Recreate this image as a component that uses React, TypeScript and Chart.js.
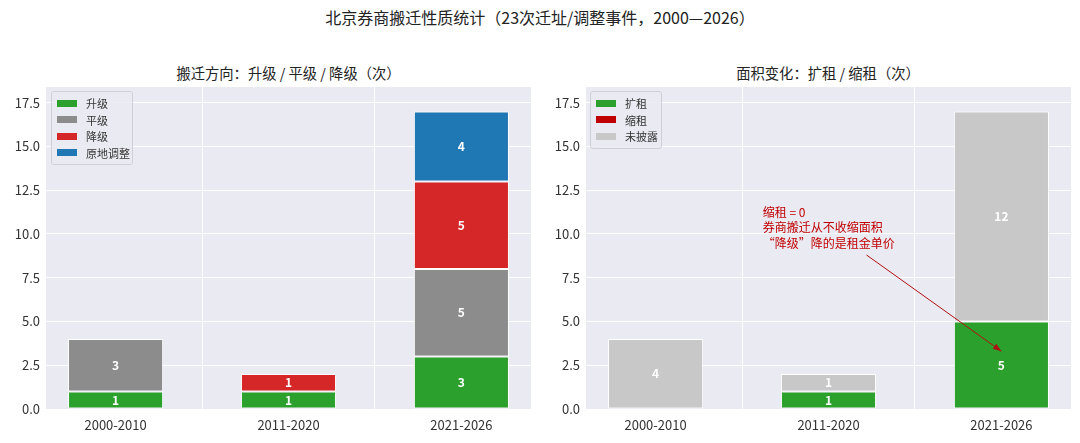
import { useEffect, useRef } from 'react';
import { Chart, registerables } from 'chart.js';

Chart.register(...registerables);

const periods = ['2000-2010', '2011-2020', '2021-2026'];

// left: direction of the move
const upgrade = [1, 1, 3];
const lateral = [3, 0, 5];
const downgrade = [0, 1, 5];
const inPlace = [0, 0, 4];

// right: change of floor area
const expand = [0, 1, 5];
const shrink = [0, 0, 0];
const undisclosed = [4, 1, 12];

const yTicks = [0, 2.5, 5, 7.5, 10, 12.5, 15, 17.5];

const noteLines = ['缩租 = 0', '券商搬迁从不收缩面积', '“降级”降的是租金单价'];
const noteText = { x: 0.62, y: 11.25 };
const noteTail = { x: 1.22, y: 8.8 };
const noteTip = { x: 2.0, y: 3.3 };

const FONT = '"Noto Sans CJK SC", "Noto Sans", sans-serif';
const BG = '#EAEAF2';

type Series = { label: string; values: number[]; color: string };

const leftSeries: Series[] = [
  { label: '升级', values: upgrade, color: '#2ca02c' },
  { label: '平级', values: lateral, color: '#8c8c8c' },
  { label: '降级', values: downgrade, color: '#d62728' },
  { label: '原地调整', values: inPlace, color: '#1f77b4' },
];

const rightSeries: Series[] = [
  { label: '扩租', values: expand, color: '#2ca02c' },
  { label: '缩租', values: shrink, color: '#c00000' },
  { label: '未披露', values: undisclosed, color: '#c8c8c8' },
];

const plotBg = {
  id: 'plotBg',
  beforeDraw(chart: any) {
    const { ctx, chartArea: a } = chart;
    ctx.save();
    ctx.fillStyle = BG;
    ctx.fillRect(a.left, a.top, a.right - a.left, a.bottom - a.top);
    ctx.restore();
  },
};

const barLabels = {
  id: 'barLabels',
  afterDatasetsDraw(chart: any) {
    const { ctx } = chart;
    ctx.save();
    ctx.fillStyle = '#ffffff';
    ctx.font = `bold 12px ${FONT}`;
    ctx.textAlign = 'center';
    ctx.textBaseline = 'middle';
    chart.data.datasets.forEach((ds: any, di: number) => {
      const meta = chart.getDatasetMeta(di);
      meta.data.forEach((el: any, i: number) => {
        const v = ds.data[i]?.y;
        if (!v) return;
        ctx.fillText(String(v), el.x, (el.y + el.base) / 2);
      });
    });
    ctx.restore();
  },
};

const note = {
  id: 'note',
  afterDatasetsDraw(chart: any) {
    if (!chart.options.plugins.note?.show) return;
    const { ctx, scales } = chart;
    const px = (p: { x: number; y: number }) => [scales.x.getPixelForValue(p.x), scales.y.getPixelForValue(p.y)];
    ctx.save();
    ctx.fillStyle = '#c00000';
    ctx.font = `12px ${FONT}`;
    ctx.textAlign = 'left';
    ctx.textBaseline = 'middle';
    const [tx, ty] = px(noteText);
    noteLines.forEach((line, i) => ctx.fillText(line, tx, ty + i * 15.5));
    const [x0, y0] = px(noteTail);
    const [x1, y1] = px(noteTip);
    ctx.strokeStyle = '#b01010';
    ctx.lineWidth = 1;
    ctx.beginPath();
    ctx.moveTo(x0, y0);
    ctx.lineTo(x1, y1);
    ctx.stroke();
    const ang = Math.atan2(y1 - y0, x1 - x0);
    ctx.fillStyle = '#b01010';
    ctx.beginPath();
    ctx.moveTo(x1, y1);
    ctx.lineTo(x1 - 9 * Math.cos(ang - 0.35), y1 - 9 * Math.sin(ang - 0.35));
    ctx.lineTo(x1 - 9 * Math.cos(ang + 0.35), y1 - 9 * Math.sin(ang + 0.35));
    ctx.closePath();
    ctx.fill();
    ctx.restore();
  },
};

const StackedPanel = ({ series, showNote }: { series: Series[]; showNote: boolean }) => {
  const canvasRef = useRef<HTMLCanvasElement | null>(null);

  useEffect(() => {
    if (!canvasRef.current) return;
    const chart = new Chart(canvasRef.current, {
      type: 'bar',
      data: {
        datasets: series.map(s => ({
          label: s.label,
          data: s.values.map((v, i) => ({ x: i, y: v || null })),
          backgroundColor: s.color,
          borderColor: '#ffffff',
          borderWidth: 1,
          borderSkipped: false,
          barPercentage: 0.55,
          categoryPercentage: 1,
        })),
      } as any,
      options: {
        animation: false,
        responsive: false,
        layout: { padding: { left: 0, right: 9, top: 7, bottom: 0 } },
        plugins: {
          legend: { display: false },
          tooltip: { enabled: false },
          note: { show: showNote },
        } as any,
        scales: {
          x: {
            type: 'linear',
            stacked: true,
            min: -0.4025,
            max: 2.4025,
            offset: false,
            afterBuildTicks: (s: any) => {
              s.ticks = periods.map((_, i) => ({ value: i }));
            },
            afterFit: (s: any) => {
              s.height = 34;
              s.paddingLeft = 0;
              s.paddingRight = 0;
            },
            ticks: {
              callback: (v: any) => periods[v] ?? '',
              color: '#333333',
              font: { family: FONT, size: 13 },
              padding: 8,
              maxRotation: 0,
            },
            grid: { color: '#ffffff', lineWidth: 1, drawTicks: false },
            border: { display: false },
          },
          y: {
            stacked: true,
            min: 0,
            max: 18.4,
            afterBuildTicks: (s: any) => {
              s.ticks = yTicks.map(v => ({ value: v }));
            },
            afterFit: (s: any) => {
              s.width = 46;
              s.paddingTop = 0;
              s.paddingBottom = 0;
            },
            ticks: {
              callback: (v: any) => Number(v).toFixed(1),
              color: '#333333',
              font: { family: FONT, size: 13 },
              padding: 6,
            },
            grid: { color: '#ffffff', lineWidth: 1, drawTicks: false },
            border: { display: false },
          },
        },
      } as any,
      plugins: [plotBg, barLabels, note],
    });
    return () => chart.destroy();
  }, [series, showNote]);

  return <canvas ref={canvasRef} width={540} height={363} style={{ width: 540, height: 363, display: 'block' }} />;
};

const Legend = ({ series, left, width }: { series: Series[]; left: number; width: number }) => (
  <div
    style={{
      position: 'absolute',
      left,
      top: 91,
      width,
      padding: '3px 0 3px 0',
      background: 'rgba(234,234,242,0.85)',
      border: '1px solid #cfcfd6',
      borderRadius: 3,
      boxSizing: 'border-box',
    }}
  >
    {series.map(s => (
      <div key={s.label} style={{ display: 'flex', alignItems: 'center', height: 16.5 }}>
        <div style={{ width: 20, height: 7, marginLeft: 5, marginRight: 9, background: s.color }} />
        <span style={{ fontSize: 11, color: '#333', fontFamily: FONT, lineHeight: '16px' }}>{s.label}</span>
      </div>
    ))}
  </div>
);

const Title = ({ text, center, top, size }: { text: string; center: number; top: number; size: number }) => (
  <div
    style={{
      position: 'absolute',
      left: center - 300,
      width: 600,
      top,
      textAlign: 'center',
      fontFamily: FONT,
      fontSize: size,
      color: '#222',
      lineHeight: 1,
      whiteSpace: 'nowrap',
    }}
  >
    {text}
  </div>
);

export default function App() {
  useEffect(() => {
    document.body.style.margin = '0';
    document.body.style.background = '#ffffff';
  }, []);

  return (
    <div style={{ position: 'relative', width: 1080, height: 443, background: '#fff', overflow: 'hidden' }}>
      <Title text="北京券商搬迁性质统计（23次迁址/调整事件，2000—2026）" center={540} top={9} size={16} />
      <Title text="搬迁方向：升级 / 平级 / 降级（次）" center={288.5} top={66} size={14.3} />
      <Title text="面积变化：扩租 / 缩租（次）" center={828} top={66} size={14.3} />
      <div style={{ position: 'absolute', left: 0, top: 80 }}>
        <StackedPanel series={leftSeries} showNote={false} />
      </div>
      <div style={{ position: 'absolute', left: 540, top: 80 }}>
        <StackedPanel series={rightSeries} showNote={true} />
      </div>
      <Legend series={leftSeries} left={51} width={82} />
      <Legend series={rightSeries} left={590} width={72} />
    </div>
  );
}
